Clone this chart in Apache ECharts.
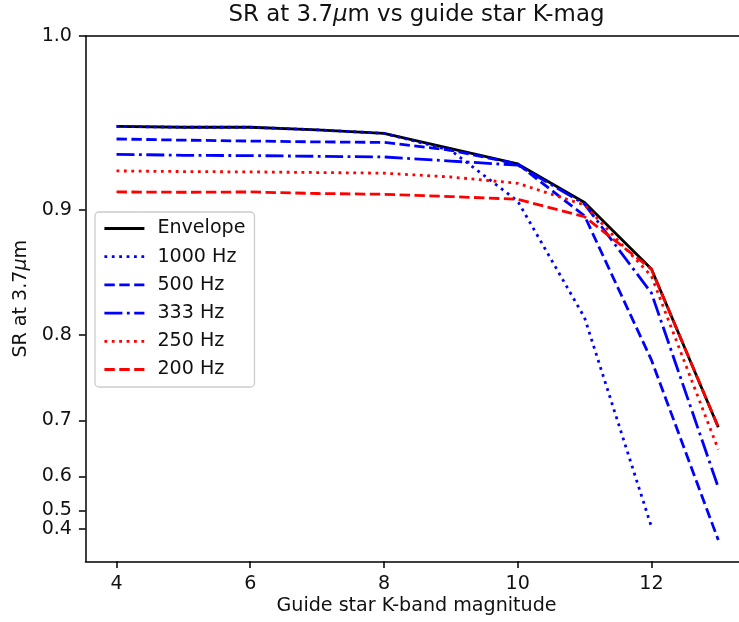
<!DOCTYPE html>
<html>
<head>
<meta charset="utf-8">
<script src="https://cdn.jsdelivr.net/npm/echarts@6/dist/echarts.min.js"></script>
<style>
html,body{margin:0;padding:0;background:#fff;}
#chart{width:739px;height:622px;}
</style>
</head>
<body>
<div id="chart"></div>
<script>
// Guide star K-band magnitudes
var mags = [4, 5, 6, 7, 8, 9, 10, 11, 12, 13];
// Strehl ratio at 3.7 µm for each loop rate
var envelope = [0.952, 0.9515, 0.9515, 0.950, 0.948, 0.939, 0.9297, 0.905, 0.857, 0.690];
var hz1000   = [0.952, 0.9515, 0.9515, 0.950, 0.948, 0.938, 0.906, 0.816, 0.417, null];
var hz500    = [0.9447, 0.944, 0.9435, 0.943, 0.9427, 0.938, 0.9297, 0.896, 0.7745, 0.25];
var hz333    = [0.9356, 0.935, 0.9348, 0.9344, 0.934, 0.9315, 0.929, 0.904, 0.8376, 0.5734];
var hz250    = [0.9254, 0.925, 0.9248, 0.9244, 0.924, 0.9216, 0.9176, 0.9034, 0.8515, 0.654];
var hz200    = [0.912, 0.9118, 0.912, 0.911, 0.9105, 0.909, 0.9072, 0.8954, 0.857, 0.6905];
var seriesNames = ['Envelope', '1000 Hz', '500 Hz', '333 Hz', '250 Hz', '200 Hz'];
var xTicks = [4, 6, 8, 10, 12];
var yTicks = [0.4, 0.5, 0.6, 0.7, 0.8, 0.9, 1.0];

// axis scale: SR^4
var P = 4;
function fwd(v) { return v == null ? null : Math.pow(v, P); }
function pairs(arr) { return mags.map(function (m, i) { return [m, fwd(arr[i])]; }); }

var FONT = 'DejaVu Sans';
var FS = 19.1;
var LW = 2.8;
var dashed = [10.4, 4.5];
var dotted = [2.8, 4.6];
var dashdot = [18, 4.5, 2.8, 4.5];

var defs = [
  { data: envelope, color: '#000000', type: 'solid' },
  { data: hz1000, color: '#0000ff', type: dotted },
  { data: hz500, color: '#0000ff', type: dashed },
  { data: hz333, color: '#0000ff', type: dashdot },
  { data: hz250, color: '#ff0000', type: dotted },
  { data: hz200, color: '#ff0000', type: dashed }
];

var series = defs.map(function (d, i) {
  return {
    name: seriesNames[i],
    type: 'line',
    xAxisIndex: 0,
    yAxisIndex: 0,
    data: pairs(d.data),
    symbol: 'none',
    showSymbol: false,
    connectNulls: false,
    animation: false,
    color: d.color,
    lineStyle: { color: d.color, width: LW, type: d.type, cap: 'butt', join: 'round' },
    z: 2 + i
  };
});

var XMIN = 3.536, XMAX = 13.31;
var YMIN = -0.0381, YMAX = 1.0;
// split tick labels over two overlaid axes so close labels are never auto-hidden
var yLabelsA = yTicks.filter(function (v, i) { return i % 2 === 0; }).map(fwd);
var yLabelsB = yTicks.filter(function (v, i) { return i % 2 === 1; }).map(fwd);

function yLabelStyle(vals) {
  return {
    customValues: vals, margin: 13.5, color: '#111', fontSize: FS, fontFamily: FONT,
    hideOverlap: false, showMinLabel: true, showMaxLabel: true,
    formatter: function (v) { return Math.pow(v, 1 / P).toFixed(1); }
  };
}

var chart = echarts.init(document.getElementById('chart'), null, { renderer: 'canvas' });
chart.setOption({
  animation: false,
  backgroundColor: '#ffffff',
  grid: {
    left: 85.5, top: 36, bottom: 60.7, right: 0,
    show: false
  },
  xAxis: [{
    type: 'value',
    min: XMIN, max: XMAX,
    splitLine: { show: false },
    axisLine: { onZero: false, lineStyle: { color: '#000', width: 1.5 } },
    axisTick: { show: true, length: 6.6, lineStyle: { color: '#000', width: 1.5 }, customValues: xTicks },
    axisLabel: {
      customValues: xTicks, margin: 13, color: '#111', fontSize: FS, fontFamily: FONT, lineHeight: 19,
      hideOverlap: false,
      formatter: function (v) { return String(Math.round(v)); }
    }
  }, {
    type: 'value',
    position: 'top',
    min: XMIN, max: XMAX,
    splitLine: { show: false },
    axisLine: { show: true, onZero: false, lineStyle: { color: '#000', width: 1.5 } },
    axisTick: { show: false },
    axisLabel: { show: false }
  }],
  yAxis: [{
    type: 'value',
    position: 'left',
    min: YMIN, max: YMAX,
    splitLine: { show: false },
    axisLine: { onZero: false, lineStyle: { color: '#000', width: 1.5 } },
    axisTick: { show: true, length: 6.6, lineStyle: { color: '#000', width: 1.5 }, customValues: yTicks.map(fwd) },
    axisLabel: yLabelStyle(yLabelsA)
  }, {
    type: 'value',
    position: 'left',
    offset: 0,
    min: YMIN, max: YMAX,
    splitLine: { show: false },
    axisLine: { show: false, onZero: false },
    axisTick: { show: false },
    axisLabel: yLabelStyle(yLabelsB)
  }],
  legend: {
    orient: 'vertical',
    left: 95, top: 212,
    padding: [7, 9, 8, 8],
    itemWidth: 40, itemHeight: 14, itemGap: 9.2,
    backgroundColor: 'rgba(255,255,255,0.8)',
    borderColor: '#cccccc', borderWidth: 1.3, borderRadius: 4,
    textStyle: { fontSize: FS, fontFamily: FONT, color: '#111', lineHeight: 19, padding: [0, 0, 0, 8] },
    itemStyle: { opacity: 0 },
    lineStyle: { width: LW },
    data: seriesNames
  },
  graphic: [
    {
      type: 'text', x: 416.5, y: 15,
      style: {
        text: 'SR at 3.7{it|μ}m vs guide star K-mag',
        fontSize: 22.9, fontFamily: FONT, fill: '#111',
        align: 'center', verticalAlign: 'middle',
        rich: { it: { fontStyle: 'italic', fontSize: 22.9, fontFamily: FONT, fill: '#111' } }
      }
    },
    {
      type: 'text', x: 416.5, y: 606,
      style: {
        text: 'Guide star K-band magnitude',
        fontSize: FS, fontFamily: FONT, fill: '#111',
        align: 'center', verticalAlign: 'middle'
      }
    },
    {
      type: 'text', x: 21, y: 298.7, rotation: Math.PI / 2,
      style: {
        text: 'SR at 3.7{it|μ}m',
        fontSize: FS, fontFamily: FONT, fill: '#111',
        align: 'center', verticalAlign: 'middle',
        rich: { it: { fontStyle: 'italic', fontSize: FS, fontFamily: FONT, fill: '#111' } }
      }
    }
  ],
  series: series
});
</script>
</body>
</html>
